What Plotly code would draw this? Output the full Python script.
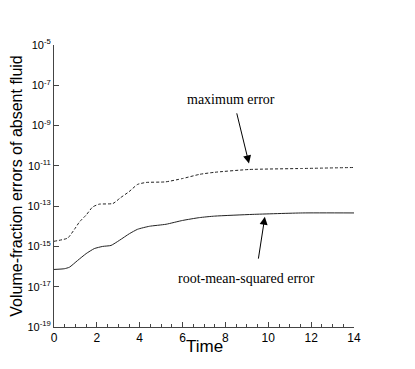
import plotly.graph_objects as go

# Data
time_max = [0, 0.64, 0.95, 1.2, 1.5, 1.8, 2.1, 2.75, 3.1, 3.5, 3.9, 4.3, 5.2, 6.0, 6.8, 7.5, 9.1, 11.6, 14.0]
max_error = [1.8e-15, 2.6e-15, 7.0e-15, 1.7e-14, 3.6e-14, 9.0e-14, 1.25e-13, 1.35e-13, 2.6e-13, 5.2e-13,
             1.2e-12, 1.5e-12, 1.6e-12, 2.35e-12, 3.8e-12, 4.8e-12, 6.6e-12, 7.4e-12, 8.3e-12]

time_rms = [0, 0.48, 0.72, 1.1, 1.5, 1.88, 2.27, 2.66, 3.05, 3.52, 3.9, 4.45, 5.23, 6.0, 6.79, 7.5, 9.28, 11.6, 14.0]
rms_error = [7.2e-17, 7.8e-17, 9.3e-17, 2.0e-16, 4.4e-16, 7.8e-16, 1.0e-15, 1.12e-15, 2.0e-15, 4.3e-15,
             7.1e-15, 1.0e-14, 1.26e-14, 1.95e-14, 2.7e-14, 3.2e-14, 3.9e-14, 4.6e-14, 4.6e-14]

y_tick_vals = [1e-19, 1e-17, 1e-15, 1e-13, 1e-11, 1e-9, 1e-7, 1e-5]
y_tick_text = ["10<sup>-19</sup>", "10<sup>-17</sup>", "10<sup>-15</sup>", "10<sup>-13</sup>",
               "10<sup>-11</sup>", "10<sup>-9</sup>", "10<sup>-7</sup>", "10<sup>-5</sup>"]
x_tick_vals = [0, 2, 4, 6, 8, 10, 12, 14]

fig = go.Figure()
fig.add_trace(go.Scatter(x=time_max, y=max_error, mode="lines",
                         line=dict(color="#222", width=1, dash="3px,2px", shape="spline", smoothing=0.5),
                         name="maximum error", showlegend=False))
fig.add_trace(go.Scatter(x=time_rms, y=rms_error, mode="lines",
                         line=dict(color="#222", width=1, shape="spline", smoothing=0.5),
                         name="root-mean-squared error", showlegend=False))

serif = dict(family="Liberation Serif, Times New Roman, serif", size=14, color="black")
sans = "Liberation Sans, Arial, Helvetica, sans-serif"
# Labels
fig.add_annotation(x=8.28, y=-7.70, text="maximum error", showarrow=False, font=serif,
                   xref="x", yref="y")
fig.add_annotation(x=8.98, y=-16.6, text="root-mean-squared error", showarrow=False, font=serif,
                   xref="x", yref="y")
# Arrows
fig.add_annotation(x=9.10, y=-10.88, text="", showarrow=True, ax=-12.6, ay=-51.6,
                   arrowhead=2, arrowsize=1.6, arrowwidth=1, arrowcolor="black", xref="x", yref="y")
fig.add_annotation(x=9.84, y=-13.53, text="", showarrow=True, ax=-6.7, ay=43.3,
                   arrowhead=2, arrowsize=1.6, arrowwidth=1, arrowcolor="black", xref="x", yref="y")
# x-axis title
fig.add_annotation(x=7, y=-0.07, xref="x", yref="paper", text="Time", showarrow=False,
                   yanchor="middle", font=dict(size=17, family=sans, color="black"))

fig.update_layout(
    width=415, height=369,
    margin=dict(l=46, r=69, t=37, b=50),
    paper_bgcolor="white", plot_bgcolor="white",
    font=dict(family=sans, color="black"),
    xaxis=dict(range=[0, 14], tickvals=x_tick_vals, ticks="inside", ticklen=5, tickwidth=1,
               tickcolor="#444", showline=True, linecolor="#444", linewidth=1, showgrid=False,
               zeroline=False, tickfont=dict(size=12, family=sans), automargin=False,
               minor=dict(dtick=0.5, tick0=0, ticks="inside", ticklen=3, tickcolor="#444", showgrid=False)),
    yaxis=dict(type="log", range=[-19, -5], tickvals=y_tick_vals, ticktext=y_tick_text,
               ticks="inside", ticklen=5, tickwidth=1, tickcolor="#444", automargin=False,
               showline=True, linecolor="#444", linewidth=1, showgrid=False, zeroline=False,
               tickfont=dict(size=11, family=sans),
               title=dict(text="Volume-fraction errors of absent fluid", font=dict(size=16, family=sans),
                          standoff=7)),
)

fig.write_html("out.html")
